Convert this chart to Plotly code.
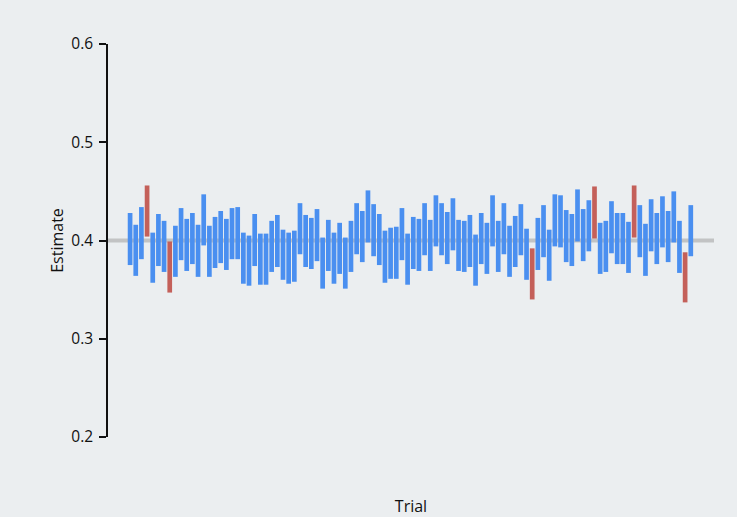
import plotly.graph_objects as go

# 100 repeated trials: lower / upper bounds of each interval estimate
trials = list(range(1, 101))
lower = [
    0.375, 0.364, 0.381, 0.404, 0.357, 0.374, 0.368, 0.347, 0.363, 0.380,
    0.369, 0.376, 0.363, 0.395, 0.363, 0.372, 0.377, 0.370, 0.381, 0.381,
    0.356, 0.354, 0.374, 0.355, 0.355, 0.368, 0.373, 0.360, 0.356, 0.358,
    0.386, 0.373, 0.371, 0.379, 0.351, 0.369, 0.356, 0.366, 0.351, 0.368,
    0.386, 0.378, 0.398, 0.384, 0.375, 0.357, 0.361, 0.361, 0.380, 0.355,
    0.371, 0.369, 0.385, 0.369, 0.394, 0.385, 0.376, 0.390, 0.369, 0.368,
    0.373, 0.354, 0.376, 0.366, 0.394, 0.368, 0.386, 0.363, 0.373, 0.385,
    0.360, 0.340, 0.370, 0.383, 0.359, 0.394, 0.393, 0.378, 0.374, 0.399,
    0.379, 0.389, 0.402, 0.366, 0.368, 0.387, 0.376, 0.376, 0.367, 0.403,
    0.383, 0.364, 0.389, 0.376, 0.393, 0.378, 0.398, 0.367, 0.337, 0.384,
]
upper = [
    0.428, 0.416, 0.434, 0.456, 0.408, 0.427, 0.420, 0.399, 0.415, 0.433,
    0.422, 0.428, 0.416, 0.447, 0.415, 0.424, 0.430, 0.422, 0.433, 0.434,
    0.408, 0.405, 0.427, 0.407, 0.407, 0.420, 0.426, 0.411, 0.408, 0.410,
    0.438, 0.426, 0.423, 0.432, 0.403, 0.421, 0.408, 0.418, 0.403, 0.420,
    0.438, 0.430, 0.451, 0.437, 0.427, 0.410, 0.413, 0.414, 0.433, 0.407,
    0.424, 0.422, 0.438, 0.421, 0.446, 0.438, 0.429, 0.443, 0.421, 0.420,
    0.426, 0.406, 0.428, 0.418, 0.446, 0.420, 0.438, 0.415, 0.425, 0.437,
    0.412, 0.392, 0.423, 0.436, 0.411, 0.447, 0.446, 0.431, 0.427, 0.452,
    0.432, 0.441, 0.455, 0.418, 0.420, 0.440, 0.428, 0.428, 0.419, 0.456,
    0.436, 0.417, 0.442, 0.428, 0.445, 0.430, 0.450, 0.420, 0.388, 0.436,
]
true_value = 0.4
y_ticks = [0.2, 0.3, 0.4, 0.5, 0.6]

BLUE = "#4a8ff0"
RED = "#c4605a"
BG = "#ebeef0"


def segments(hit):
    xs, ys = [], []
    for t, lo, hi in zip(trials, lower, upper):
        if (lo <= true_value <= hi) == hit:
            xs += [t, t, None]
            ys += [lo, hi, None]
    return xs, ys


fig = go.Figure()

# reference line at the true value
fig.add_shape(type="line", xref="paper", x0=0, x1=1, yref="y",
              y0=true_value, y1=true_value,
              line=dict(color="#c2c3c4", width=4), layer="below")

for hit, color in [(True, BLUE), (False, RED)]:
    xs, ys = segments(hit)
    fig.add_trace(go.Scatter(x=xs, y=ys, mode="lines",
                             line=dict(color=color, width=4.7),
                             hoverinfo="skip", showlegend=False))

fig.update_layout(
    width=737, height=517,
    margin=dict(l=108, r=23, t=44, b=80),
    paper_bgcolor=BG, plot_bgcolor=BG,
    font=dict(family="Open Sans, sans-serif", size=15.5, color="#111111"),
    xaxis=dict(range=[-2.9, 104.1], showgrid=False, zeroline=False,
               showline=False, showticklabels=False, ticks="",
               automargin=False,
               title=dict(text="Trial", standoff=65,
                          font=dict(size=16))),
    yaxis=dict(range=[0.2, 0.6], tickvals=y_ticks,
               ticktext=[f"{v:.1f}" for v in y_ticks],
               showgrid=False, zeroline=False, showline=True,
               linecolor="#111111", linewidth=1.5,
               ticks="outside", ticklen=7, tickwidth=1.5,
               tickcolor="#111111", ticklabelstandoff=3,
               automargin=False,
               title=dict(text="Estimate", standoff=4,
                          font=dict(size=16))),
)

fig.write_html("out.html")
